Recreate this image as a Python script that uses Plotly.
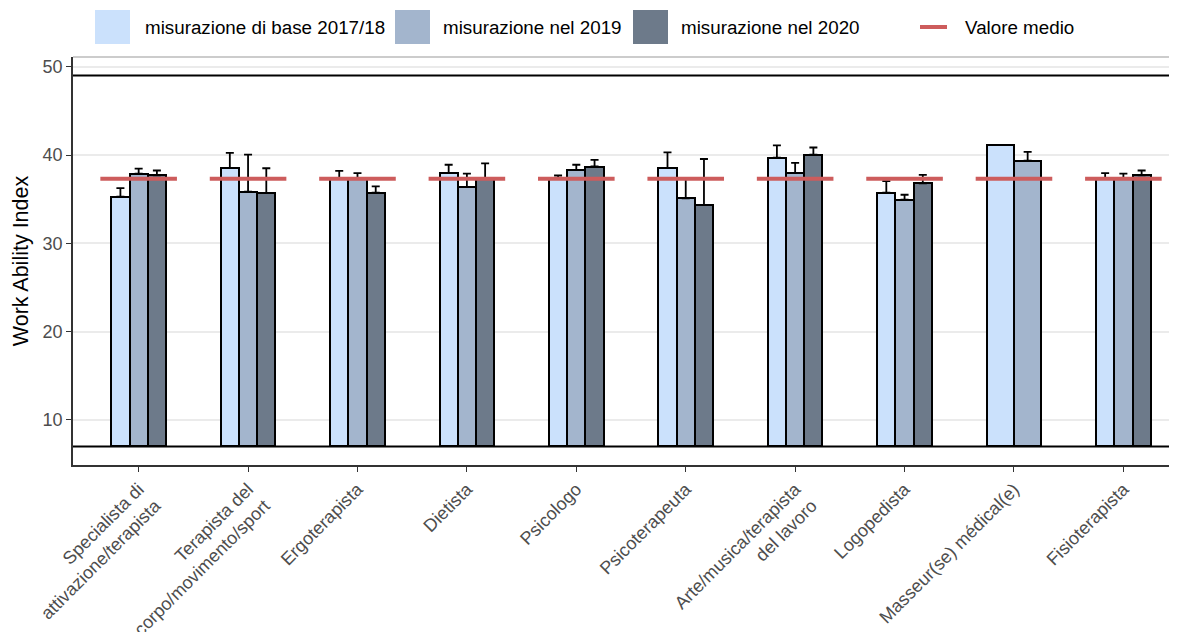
import plotly.graph_objects as go

# --- data ------------------------------------------------------------------
categories = [
    "Specialista di<br>attivazione/terapista",
    "Terapista del<br>corpo/movimento/sport",
    "Ergoterapista",
    "Dietista",
    "Psicologo",
    "Psicoterapeuta",
    "Arte/musica/terapista<br>del lavoro",
    "Logopedista",
    "Masseur(se) médical(e)",
    "Fisioterapista",
]
series_names = ["misurazione di base 2017/18", "misurazione nel 2019", "misurazione nel 2020"]
wai_base = [35.3, 38.55, 37.35, 37.95, 37.45, 38.55, 39.7, 35.75, 41.1, 37.35]
wai_2019 = [37.9, 35.85, 37.35, 36.4, 38.3, 35.1, 37.95, 34.95, 39.35, 37.35]
wai_2020 = [37.7, 35.7, 35.75, 37.3, 38.7, 34.35, 40.05, 36.8, None, 37.7]
err_base = [0.95, 1.7, 0.85, 0.95, 0.25, 1.75, 1.4, 1.3, None, 0.6]
err_2019 = [0.55, 4.2, 0.6, 1.5, 0.6, 2.2, 1.15, 0.55, 1.0, 0.55]
err_2020 = [0.55, 2.8, 0.7, 1.75, 0.75, 5.2, 0.8, 0.95, None, 0.55]
mean_value = [37.3] * len(categories)
ref_lines = [7, 49]          # lower / upper bound of the index
y_ticks = [10, 20, 30, 40, 50]

colors = ["#cbe1fc", "#a3b5cd", "#6d7a8a"]
values = [wai_base, wai_2019, wai_2020]
errors = [err_base, err_2019, err_2020]

# --- layout geometry (pixels, page has an 8px body margin) -------------------
PAGE_OFF = 8
W, H = 1177 - PAGE_OFF, 632 - PAGE_OFF
ML, MR, MT, MB = 73 - PAGE_OFF, 0, 57 - PAGE_OFF, 167
PW, PH = W - ML - MR, H - MT - MB


def px(x):
    return (x - PAGE_OFF - ML) / PW


def py(y):
    return (H - MB - (y - PAGE_OFF)) / PH


GROUP_W = 0.5
base = ref_lines[0]

fig = go.Figure()

# bars, dodged; groups with missing series widen the remaining bars
bx = [[], [], []]
bw = [[], [], []]
for i in range(len(categories)):
    present = [s for s in range(3) if values[s][i] is not None]
    w = GROUP_W / len(present)
    for k, s in enumerate(present):
        bx[s].append(i - GROUP_W / 2 + w * (k + 0.5))
        bw[s].append(w)

for s in range(3):
    ys = [v for v in values[s] if v is not None]
    fig.add_trace(go.Bar(
        x=bx[s], y=[v - base for v in ys], base=base, width=bw[s],
        marker=dict(color=colors[s], line=dict(color="black", width=2)),
        name=series_names[s], showlegend=False))

# error bars (upper only, drawn as invisible scatter with error_y)
for s in range(3):
    ys = [v for v in values[s] if v is not None]
    es = [e for v, e in zip(values[s], errors[s]) if v is not None]
    keep = [j for j, e in enumerate(es) if e is not None]
    fig.add_trace(go.Scatter(
        x=[bx[s][j] for j in keep], y=[ys[j] for j in keep], mode="markers",
        marker=dict(size=1, opacity=0),
        error_y=dict(type="data", symmetric=False, array=[es[j] for j in keep],
                     arrayminus=[0] * len(keep), color="black", thickness=1.8, width=4),
        showlegend=False, hoverinfo="skip"))

# mean line per group
mx, my = [], []
for i, m in enumerate(mean_value):
    mx += [i - 0.35, i + 0.35, None]
    my += [m, m, None]
fig.add_trace(go.Scatter(x=mx, y=my, mode="lines", line=dict(color="#cd5c5c", width=4),
                         showlegend=False, hoverinfo="skip"))

# reference lines
for r in ref_lines:
    fig.add_shape(type="line", xref="paper", x0=0, x1=1, yref="y", y0=r, y1=r,
                  line=dict(color="black", width=2), layer="above")
fig.add_shape(type="line", xref="paper", x0=0, x1=1, yref="paper", y0=1, y1=1,
              line=dict(color="#999999", width=1))

# legend drawn by hand (large square keys)
key_left = [95, 395, 633]
text_left = [143, 441, 679]
for s in range(3):
    fig.add_shape(type="rect", xref="paper", yref="paper",
                  x0=px(key_left[s]), x1=px(key_left[s] + 35), y0=py(44), y1=py(10),
                  fillcolor=colors[s], line=dict(width=0))
    fig.add_annotation(x=px(text_left[s]), y=py(27), xref="paper", yref="paper", text=series_names[s],
                       xanchor="left", yanchor="middle", showarrow=False,
                       font=dict(size=18.8, color="black"))
fig.add_shape(type="line", xref="paper", yref="paper", x0=px(920), x1=px(947), y0=py(27), y1=py(27),
              line=dict(color="#cd5c5c", width=4))
fig.add_annotation(x=px(963), y=py(27), xref="paper", yref="paper", text="Valore medio",
                   xanchor="left", yanchor="middle", showarrow=False, font=dict(size=18.8, color="black"))

fig.update_layout(
    width=W, height=H, margin=dict(l=ML, r=MR, t=MT, b=MB),
    paper_bgcolor="white", plot_bgcolor="white",
    font=dict(family="Liberation Sans, Arial, sans-serif"),
    bargap=0,
    xaxis=dict(range=[-0.6, len(categories) - 0.51], tickvals=list(range(len(categories))),
               ticktext=categories, tickangle=-45, tickfont=dict(size=18, color="#4d4d4d"),
               ticks="outside", ticklen=5, tickcolor="#333333", showgrid=False, zeroline=False,
               showline=True, linecolor="#333333", linewidth=1.5, automargin=False),
    yaxis=dict(range=[4.9, 51.1], tickvals=y_ticks, tickfont=dict(size=18, color="#4d4d4d"),
               ticks="outside", ticklen=5, tickcolor="#333333", showgrid=True, gridcolor="#ebebeb",
               gridwidth=1.5, zeroline=False, showline=True, linecolor="#333333", linewidth=1.5,
               automargin=False,
               title=dict(text="Work Ability Index", font=dict(size=21.5, color="black"), standoff=8)),
)

fig.write_html("out.html")
